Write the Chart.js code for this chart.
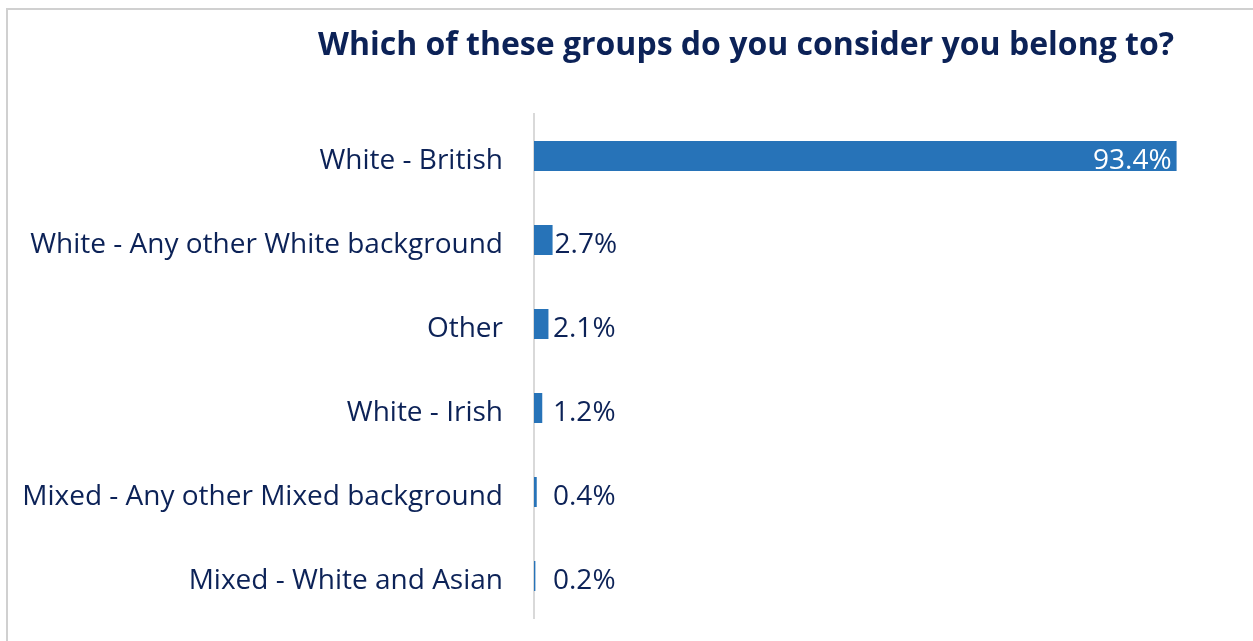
<!DOCTYPE html>
<html>
<head>
<meta charset="utf-8">
<script src="https://cdn.jsdelivr.net/npm/chart.js@4/dist/chart.umd.min.js"></script>
<style>
  html,body{margin:0;padding:0;background:#fff;overflow:hidden}
  #frame{position:absolute;left:6px;top:8px;width:1300px;height:700px;border-left:2px solid #d0d0d0;border-top:2px solid #d0d0d0}
  #wrap{position:absolute;left:0;top:0;width:1253px;height:641px}
</style>
</head>
<body>
<div id="frame"></div>
<div id="wrap"><canvas id="c" width="1253" height="641"></canvas></div>
<script>
const TITLE = 'Which of these groups do you consider you belong to?';
const CATEGORIES = [
  'White - British',
  'White - Any other White background',
  'Other',
  'White - Irish',
  'Mixed - Any other Mixed background',
  'Mixed - White and Asian',
];
const VALUES = [93.4, 2.7, 2.1, 1.2, 0.4, 0.2];

const NAVY = '#0c2257';
const BLUE = '#2773b8';
const FONT = '"Open Sans", sans-serif';

// title is centred over the whole plot (labels + bars), not the canvas
const titlePlugin = {
  id:'title2',
  afterDraw(chart){
    const ctx = chart.ctx;
    ctx.save();
    ctx.font = 'bold 32px ' + FONT;
    ctx.fillStyle = NAVY;
    ctx.textAlign = 'center';
    ctx.textBaseline = 'alphabetic';
    ctx.fillText(TITLE, 746, 55);
    ctx.restore();
  }
};

// value labels: white inside the long bar, navy outside the short ones
const labelPlugin = {
  id:'vals',
  afterDatasetsDraw(chart){
    const ctx = chart.ctx;
    const meta = chart.getDatasetMeta(0);
    const left = chart.chartArea.left;
    ctx.save();
    ctx.font = '28px ' + FONT;
    ctx.textBaseline = 'middle';
    meta.data.forEach((bar,i)=>{
      const txt = VALUES[i].toFixed(1) + '%';
      if(VALUES[i] > 50){
        ctx.fillStyle = '#ffffff';
        ctx.textAlign = 'right';
        ctx.fillText(txt, bar.x - 5, bar.y + 5);
      }else{
        ctx.fillStyle = NAVY;
        ctx.textAlign = 'left';
        ctx.fillText(txt, Math.max(bar.x + 2, left + 19), bar.y + 5);
      }
    });
    ctx.restore();
  }
};

new Chart(document.getElementById('c').getContext('2d'),{
  type:'bar',
  data:{
    labels:CATEGORIES,
    datasets:[{data:VALUES,backgroundColor:BLUE,borderWidth:0,barPercentage:30/84,categoryPercentage:1}]
  },
  options:{
    indexAxis:'y',
    responsive:false,
    animation:false,
    layout:{padding:{top:114,right:31,bottom:23,left:0}},
    plugins:{legend:{display:false},tooltip:{enabled:false}},
    scales:{
      x:{min:0,max:100,display:false},
      y:{
        afterFit(s){ s.width = 534; s.paddingTop = 0; s.paddingBottom = 0; },
        grid:{display:false,drawTicks:false},
        border:{display:true,color:'#d9d9d9',width:2},
        ticks:{color:NAVY,padding:31,labelOffset:5,font:{family:'Open Sans',size:28}}
      }
    }
  },
  plugins:[titlePlugin,labelPlugin]
});
</script>
</body>
</html>
